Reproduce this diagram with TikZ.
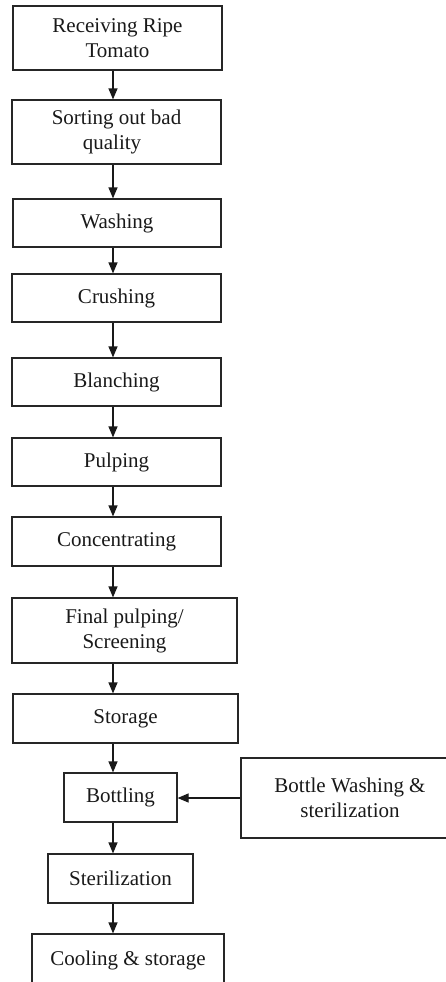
\documentclass[tikz,border=0pt]{standalone}
\usepackage{fontspec}
\setmainfont{Liberation Serif}
\usetikzlibrary{arrows.meta}
\begin{document}
\begin{tikzpicture}[x=1pt,y=-1pt,
  box/.style={draw=black!85, line width=1.2pt, inner sep=0pt, align=center,
    font=\fontsize{21}{25}\selectfont, text=black!90},
  arr/.style={line width=1.2pt, draw=black!90, -{Triangle[length=11pt,width=9pt]}}]
\useasboundingbox (0,0) rectangle (446,982);
\coordinate (ax) at (113,0);
\node[box, minimum width=209, minimum height=64] (n1) at (117.5,38) {Receiving Ripe\\Tomato};
\node[box, minimum width=209, minimum height=64] (n2) at (116.5,132) {Sorting out bad\\quality\hspace*{9pt}};
\node[box, minimum width=208, minimum height=48] (n3) at (117,223) {Washing};
\node[box, minimum width=209, minimum height=48] (n4) at (116.5,298) {Crushing};
\node[box, minimum width=209, minimum height=48] (n5) at (116.5,382) {Blanching};
\node[box, minimum width=209, minimum height=48] (n6) at (116.5,462) {Pulping};
\node[box, minimum width=209, minimum height=49] (n7) at (116.5,541.5) {Concentrating};
\node[box, minimum width=225, minimum height=65] (n8) at (124.5,630.5) {Final pulping/\\Screening};
\node[box, minimum width=225, minimum height=49] (n9) at (125.5,718.5) {Storage};
\node[box, minimum width=113, minimum height=49] (n10) at (120.5,797.5) {Bottling};
\node[box, minimum width=145, minimum height=49] (n11) at (120.5,878.5) {Sterilization};
\node[box, minimum width=192, minimum height=52] (n12) at (128,960) {Cooling \& storage};
\node[box, minimum width=218, minimum height=80] (n13) at (350,798) {Bottle Washing \&\\sterilization};
\foreach \a/\b in {n1/n2,n2/n3,n3/n4,n4/n5,n5/n6,n6/n7,n7/n8,n8/n9,n9/n10,n10/n11,n11/n12}
  \draw[arr] (\a.south -| ax) -- (\b.north -| ax);
\draw[arr] (n13.west) -- (n13.west -| n10.east);
\end{tikzpicture}
\end{document}
